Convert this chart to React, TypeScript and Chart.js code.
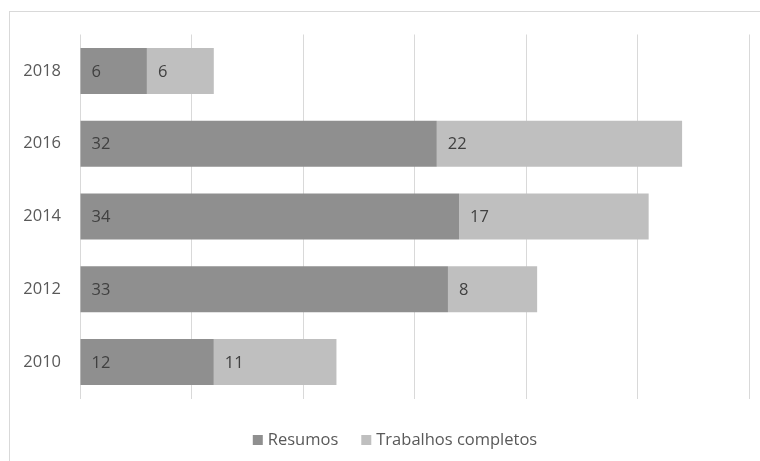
import React, { useEffect, useRef } from "react";
import { Chart, registerables } from "chart.js";

Chart.register(...registerables);

const categories = ["2018", "2016", "2014", "2012", "2010"];
const resumos = [6, 32, 34, 33, 12];
const trabalhos = [6, 22, 17, 8, 11];
const seriesNames = ["Resumos", "Trabalhos completos"];
const xMin = 0;
const xMax = 60;
const xStep = 10;

const FONT = "'Open Sans', 'DejaVu Sans', sans-serif";

const barLabelPlugin = {
  id: "barLabels",
  afterDatasetsDraw(chart: any) {
    const ctx = chart.ctx;
    ctx.save();
    ctx.font = `16.5px ${FONT}`;
    ctx.fillStyle = "#404040";
    ctx.textAlign = "left";
    ctx.textBaseline = "middle";
    chart.data.datasets.forEach((ds: any, di: number) => {
      const meta = chart.getDatasetMeta(di);
      meta.data.forEach((bar: any, i: number) => {
        const start = Math.min(bar.base, bar.x);
        ctx.fillText(String(ds.data[i]), start + 11, bar.y + 1);
      });
    });
    ctx.restore();
  },
};

const legendPlugin = {
  id: "customLegend",
  afterDraw(chart: any) {
    const ctx = chart.ctx;
    ctx.save();
    ctx.font = `16.5px ${FONT}`;
    ctx.textBaseline = "middle";
    ctx.textAlign = "left";
    const box = 10;
    const gap = 5;
    const itemGap = 23;
    const items = chart.data.datasets.map((ds: any) => ({
      label: ds.label,
      color: ds.backgroundColor,
      w: box + gap + ctx.measureText(ds.label).width,
    }));
    const total = items.reduce((s: number, it: any) => s + it.w, 0) + itemGap * (items.length - 1);
    let x = 395 - total / 2;
    const y = 440;
    items.forEach((it: any) => {
      ctx.fillStyle = it.color;
      ctx.fillRect(x, y - box / 2, box, box);
      ctx.fillStyle = "#595959";
      ctx.fillText(it.label, x + box + gap, y);
      x += it.w + itemGap;
    });
    ctx.restore();
  },
};

export default function App() {
  const ref = useRef<HTMLCanvasElement>(null);
  useEffect(() => {
    if (!ref.current) return;
    const chart = new Chart(ref.current, {
      type: "bar",
      data: {
        labels: categories,
        datasets: [
          {
            label: seriesNames[0],
            data: resumos,
            backgroundColor: "#8f8f8f",
            borderWidth: 0,
          },
          {
            label: seriesNames[1],
            data: trabalhos,
            backgroundColor: "#bfbfbf",
            borderWidth: 0,
          },
        ],
      },
      plugins: [barLabelPlugin, legendPlugin],
      options: {
        indexAxis: "y",
        animation: false,
        responsive: false,
        maintainAspectRatio: false,
        layout: { padding: { left: 10, right: 11, top: 34.5, bottom: 62.5 } },
        plugins: {
          legend: { display: false },
          tooltip: { enabled: false },
        },
        datasets: {
          bar: { categoryPercentage: 1, barPercentage: 0.632 },
        },
        scales: {
          x: {
            stacked: true,
            min: xMin,
            max: xMax,
            ticks: { display: false, stepSize: xStep },
            grid: { color: "#d9d9d9", lineWidth: 1, drawTicks: false },
            border: { display: false },
            afterFit(scale: any) {
              scale.height = 0;
            },
          },
          y: {
            stacked: true,
            grid: { display: false, drawTicks: false },
            border: { display: false },
            ticks: {
              color: "#595959",
              font: { family: FONT, size: 16.5 },
              padding: 19,
            },
            afterFit(scale: any) {
              scale.width = 70;
            },
          },
        },
      },
    });
    return () => chart.destroy();
  }, []);
  return (
    <div style={{ position: "fixed", left: 0, top: 0, width: 760, height: 461, overflow: "hidden", background: "#fff" }}>
      <div
        style={{
          position: "absolute",
          left: 9,
          top: 11,
          width: 800,
          height: 500,
          border: "1px solid #d9d9d9",
          boxSizing: "border-box",
        }}
      />
      <canvas ref={ref} width={760} height={461} style={{ position: "absolute", left: 0, top: 0, display: "block" }} />
    </div>
  );
}
